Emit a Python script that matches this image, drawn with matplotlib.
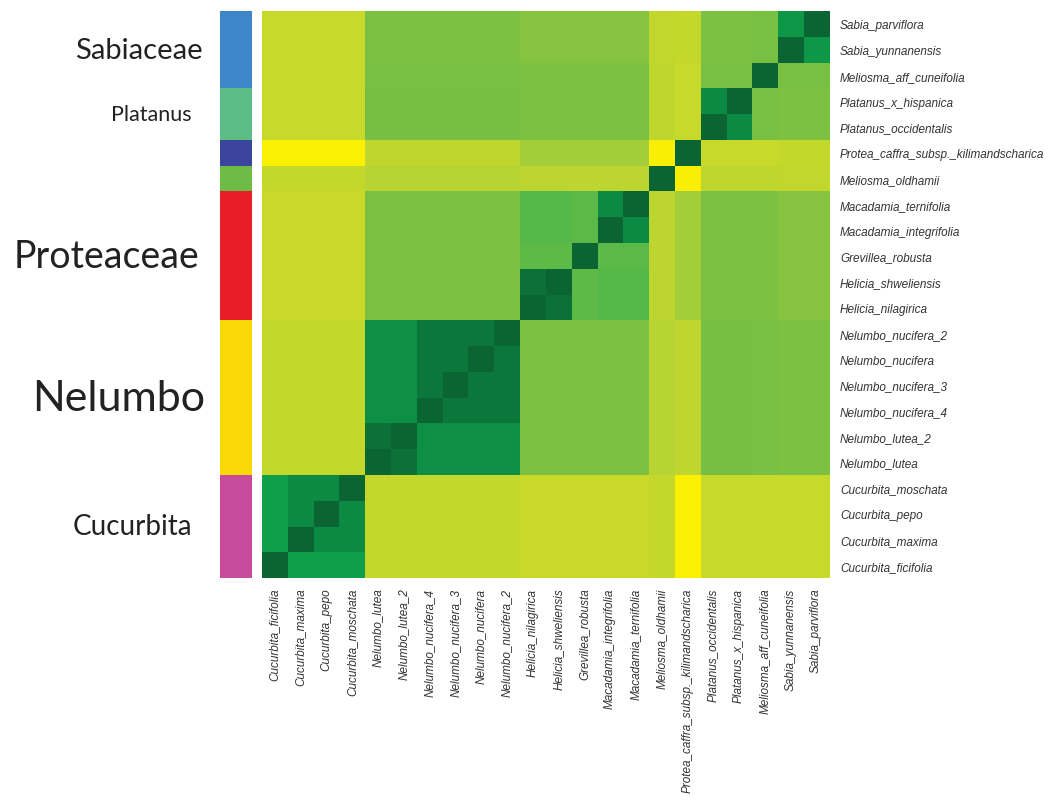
import numpy as np
import matplotlib.pyplot as plt
from matplotlib.colors import LinearSegmentedColormap

# species in column order (left to right); rows are the same, drawn bottom to top
species = ['Cucurbita_ficifolia', 'Cucurbita_maxima', 'Cucurbita_pepo', 'Cucurbita_moschata',
           'Nelumbo_lutea', 'Nelumbo_lutea_2', 'Nelumbo_nucifera_4', 'Nelumbo_nucifera_3',
           'Nelumbo_nucifera', 'Nelumbo_nucifera_2', 'Helicia_nilagirica', 'Helicia_shweliensis',
           'Grevillea_robusta', 'Macadamia_integrifolia', 'Macadamia_ternifolia', 'Meliosma_oldhamii',
           'Protea_caffra_subsp._kilimandscharica', 'Platanus_occidentalis', 'Platanus_x_hispanica',
           'Meliosma_aff_cuneifolia', 'Sabia_yunnanensis', 'Sabia_parviflora']

similarity = np.array([
    [1.00, .86, .86, .86, .31, .31, .31, .31, .31, .31, .29, .29, .29, .29, .29, .31, .02, .30, .30, .30, .30, .30],
    [.86, 1.00, .92, .92, .31, .31, .31, .31, .31, .31, .29, .29, .29, .29, .29, .31, .02, .30, .30, .30, .30, .30],
    [.86, .92, 1.00, .92, .31, .31, .31, .31, .31, .31, .29, .29, .29, .29, .29, .31, .02, .30, .30, .30, .30, .30],
    [.86, .92, .92, 1.00, .31, .31, .31, .31, .31, .31, .29, .29, .29, .29, .29, .31, .02, .30, .30, .30, .30, .30],
    [.31, .31, .31, .31, 1.00, .97, .90, .90, .90, .90, .55, .55, .55, .55, .55, .36, .33, .57, .57, .56, .55, .55],
    [.31, .31, .31, .31, .97, 1.00, .90, .90, .90, .90, .55, .55, .55, .55, .55, .36, .33, .57, .57, .56, .55, .55],
    [.31, .31, .31, .31, .90, .90, 1.00, .96, .96, .96, .55, .55, .55, .55, .55, .36, .33, .57, .57, .56, .55, .55],
    [.31, .31, .31, .31, .90, .90, .96, 1.00, .96, .96, .55, .55, .55, .55, .55, .36, .33, .57, .57, .56, .55, .55],
    [.31, .31, .31, .31, .90, .90, .96, .96, 1.00, .96, .55, .55, .55, .55, .55, .36, .33, .57, .57, .56, .55, .55],
    [.31, .31, .31, .31, .90, .90, .96, .96, .96, 1.00, .55, .55, .55, .55, .55, .36, .33, .57, .57, .56, .55, .55],
    [.29, .29, .29, .29, .55, .55, .55, .55, .55, .55, 1.00, .97, .65, .68, .68, .34, .44, .55, .55, .55, .52, .52],
    [.29, .29, .29, .29, .55, .55, .55, .55, .55, .55, .97, 1.00, .65, .68, .68, .34, .44, .55, .55, .55, .52, .52],
    [.29, .29, .29, .29, .55, .55, .55, .55, .55, .55, .65, .65, 1.00, .66, .66, .34, .44, .55, .55, .55, .52, .52],
    [.29, .29, .29, .29, .55, .55, .55, .55, .55, .55, .68, .68, .66, 1.00, .92, .34, .44, .55, .55, .55, .52, .52],
    [.29, .29, .29, .29, .55, .55, .55, .55, .55, .55, .68, .68, .66, .92, 1.00, .34, .44, .55, .55, .55, .52, .52],
    [.31, .31, .31, .31, .36, .36, .36, .36, .36, .36, .34, .34, .34, .34, .34, 1.00, .03, .33, .33, .33, .32, .32],
    [.02, .02, .02, .02, .33, .33, .33, .33, .33, .33, .44, .44, .44, .44, .44, .03, 1.00, .30, .30, .30, .31, .31],
    [.30, .30, .30, .30, .57, .57, .57, .57, .57, .57, .55, .55, .55, .55, .55, .33, .30, 1.00, .92, .56, .55, .55],
    [.30, .30, .30, .30, .57, .57, .57, .57, .57, .57, .55, .55, .55, .55, .55, .33, .30, .92, 1.00, .56, .55, .55],
    [.30, .30, .30, .30, .56, .56, .56, .56, .56, .56, .55, .55, .55, .55, .55, .33, .30, .56, .56, 1.00, .56, .56],
    [.30, .30, .30, .30, .55, .55, .55, .55, .55, .55, .52, .52, .52, .52, .52, .32, .31, .55, .55, .56, 1.00, .88],
    [.30, .30, .30, .30, .55, .55, .55, .55, .55, .55, .52, .52, .52, .52, .52, .32, .31, .55, .55, .56, .88, 1.00],
])

# group strip, bottom to top
group_sizes = [4, 6, 5, 1, 1, 2, 3]
group_colors = ['#c84b9e', '#fbd907', '#e91d25', '#6dbb45', '#3b459b', '#5cbe86', '#3d87c9']
group_labels = ['Cucurbita', 'Nelumbo', 'Proteaceae', '', '', 'Platanus', 'Sabiaceae']
label_sizes = [20, 31, 27, 0, 0, 15.5, 21]
label_right = [192, 205, 199, 0, 0, 192, 203]   # right edge of each label, px

cmap = LinearSegmentedColormap.from_list('sim', [
    (0.0, '#fff100'), (0.3, '#c7d92c'), (0.45, '#a2ce3b'), (0.55, '#7cc142'),
    (0.68, '#55b848'), (0.86, '#10a04a'), (0.92, '#0d8a43'), (1.0, '#0b6532')])

fig = plt.figure(figsize=(10.56, 8.03), dpi=100)
W, H = 1056, 803
top, bottom = 12, 579
ax = fig.add_axes([262 / W, 1 - bottom / H, (829 - 262) / W, (bottom - top) / H])
ax.imshow(similarity, cmap=cmap, vmin=0, vmax=1, origin='lower', aspect='auto',
          interpolation='nearest')
n = len(species)
ax.set_xticks(range(n))
ax.set_xticklabels(species, rotation=90, fontsize=8.5, style='italic', color='#333333',
                   family='Liberation Sans')
ax.set_yticks(range(n))
ax.set_yticklabels(species, fontsize=8.5, style='italic', color='#333333',
                   family='Liberation Sans')
ax.yaxis.tick_right()
ax.tick_params(axis='y', length=0, pad=8)
ax.tick_params(axis='x', length=0, pad=7)
for s in ax.spines.values():
    s.set_visible(False)

ax2 = fig.add_axes([220 / W, 1 - bottom / H, 32 / W, (bottom - top) / H])
start = 0
for size, col, lab, fs, xr in zip(group_sizes, group_colors, group_labels,
                                  label_sizes, label_right):
    ax2.barh(start, 1, height=size, left=0, align='edge', color=col)
    if lab:
        yc = bottom - (start + size / 2) / n * (bottom - top)
        fig.text(xr / W, 1 - yc / H, lab, ha='right', va='center', fontsize=fs,
                 family='Lato', color='#222222')
    start += size
ax2.set_xlim(0, 1)
ax2.set_ylim(0, n)
ax2.axis('off')

fig.savefig('out.png', dpi=100)
